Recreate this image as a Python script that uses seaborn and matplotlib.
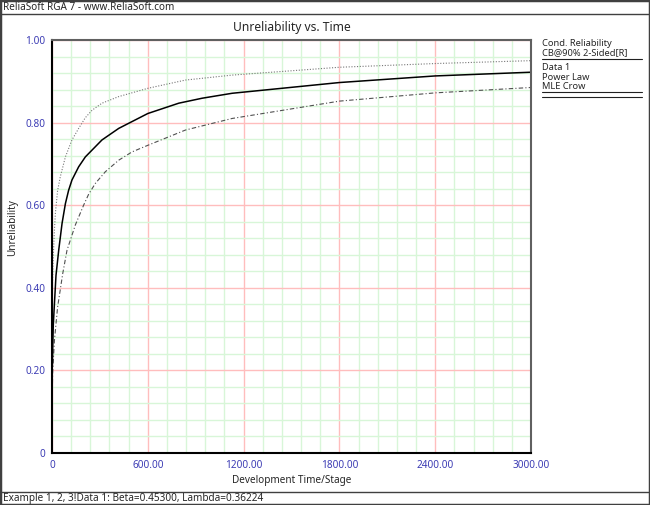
import seaborn as sns
import matplotlib.pyplot as plt
import numpy as np
from matplotlib.patches import Rectangle
from matplotlib.lines import Line2D

# values
center_t = [2, 4, 8, 15, 25, 42, 63, 84, 104, 125, 167, 209, 313, 418, 600, 794, 940,
            1128, 1800, 2400, 3000]
center_f = [0.21, 0.248, 0.31, 0.36, 0.43, 0.491, 0.556, 0.604, 0.636, 0.661, 0.693,
            0.717, 0.758, 0.786, 0.822, 0.847, 0.859, 0.871, 0.897, 0.913, 0.922]

upper_t = [1, 3, 8, 14, 21, 35, 52, 84, 125, 167, 209, 251, 313, 418, 600, 836, 1128,
           1800, 2400, 3000]
upper_f = [0.33, 0.41, 0.475, 0.53, 0.58, 0.635, 0.669, 0.717, 0.758, 0.786, 0.812,
           0.83, 0.847, 0.863, 0.883, 0.903, 0.915, 0.934, 0.943, 0.950]

lower_t = [1, 4, 15, 35, 67, 94, 146, 198, 230, 272, 334, 418, 501, 600, 836, 1128,
           1800, 2400, 3000]
lower_f = [0.12, 0.193, 0.272, 0.353, 0.434, 0.491, 0.552, 0.60, 0.627, 0.653, 0.681,
           0.709, 0.729, 0.745, 0.782, 0.81, 0.852, 0.872, 0.885]

x_ticks = [0, 600, 1200, 1800, 2400, 3000]
x_labels = ["0", "600.00", "1200.00", "1800.00", "2400.00", "3000.00"]
y_ticks = [0, 0.2, 0.4, 0.6, 0.8, 1.0]
y_labels = ["0", "0.20", "0.40", "0.60", "0.80", "1.00"]

legend_lines = ["Cond. Reliability", "CB@90% 2-Sided[R]", "Data 1", "Power Law", "MLE Crow"]

sns.set_style("white")
plt.rcParams["font.family"] = ["Noto Sans", "DejaVu Sans"]

W, H = 650, 505


def fx(x):
    return x / W


def fy(y):
    return 1 - y / H


fig = plt.figure(figsize=(W / 100, H / 100), dpi=100)
ax = fig.add_axes([fx(52), fy(453), (531 - 52) / W, (453 - 40) / H])

sns.lineplot(x=upper_t, y=upper_f, ax=ax, color="#777777", lw=0.8,
             linestyle=(0, (1, 1.5)), estimator=None)
sns.lineplot(x=lower_t, y=lower_f, ax=ax, color="#505050", lw=0.8,
             linestyle=(0, (4, 2, 1, 2)), estimator=None)
sns.lineplot(x=center_t, y=center_f, ax=ax, color="black", lw=1.1, estimator=None)

ax.set_xlim(0, 3000)
ax.set_ylim(0, 1)
ax.set_xticks(x_ticks)
ax.set_xticklabels(x_labels)
ax.set_yticks(y_ticks)
ax.set_yticklabels(y_labels)
ax.set_xticks(np.arange(0, 3001, 120), minor=True)
ax.set_yticks(np.arange(0, 1.001, 0.04), minor=True)
ax.set_axisbelow(True)
ax.grid(which="minor", color="#D8F6D8", lw=1)
ax.grid(which="major", color="#FFBDBD", lw=1)
ax.tick_params(which="minor", length=0)
ax.tick_params(which="major", length=4, width=0.8, direction="out", color="#333333",
               labelsize=7.2, labelcolor="#3C3CB4", pad=1)
ax.set_xlabel("")
ax.set_ylabel("")

for side in ["left", "bottom"]:
    ax.spines[side].set_color("black")
    ax.spines[side].set_linewidth(1.5)
for side in ["top", "right"]:
    ax.spines[side].set_color("#606060")
    ax.spines[side].set_linewidth(1.5)

# frame, header and status bar
fig.add_artist(Rectangle((0, 0), 1, 1, transform=fig.transFigure, fill=False,
                         edgecolor="#404040", lw=2.5))
fig.add_artist(Line2D([0, 1], [fy(13.5)] * 2, color="#404040", lw=1))
fig.add_artist(Line2D([0, 1], [fy(492)] * 2, color="#404040", lw=1))
fig.text(fx(3), fy(7.5), "ReliaSoft RGA 7 - www.ReliaSoft.com", size=7.2, va="center")
fig.text(fx(3), fy(498.5), "Example 1, 2, 3!Data 1: Beta=0.45300, Lambda=0.36224",
         size=7.2, va="center")

fig.text(fx(291.5), fy(27), "Unreliability vs. Time", size=8.7, ha="center", va="center")
fig.text(fx(291.5), fy(481), "Development Time/Stage", size=7.2, ha="center", va="center")
fig.text(fx(13), fy(228), "Unreliability", size=7.2, ha="center", va="center", rotation=90)

# legend block
for txt, y in zip(legend_lines, [43, 53, 67.5, 77.2, 86.9]):
    fig.text(fx(542), fy(y), txt, size=6.7, va="center")
for y in [59, 92, 96.5]:
    fig.add_artist(Line2D([fx(541.5), fx(641.5)], [fy(y)] * 2, color="#202020", lw=0.8))

fig.savefig("out.png", dpi=100)
